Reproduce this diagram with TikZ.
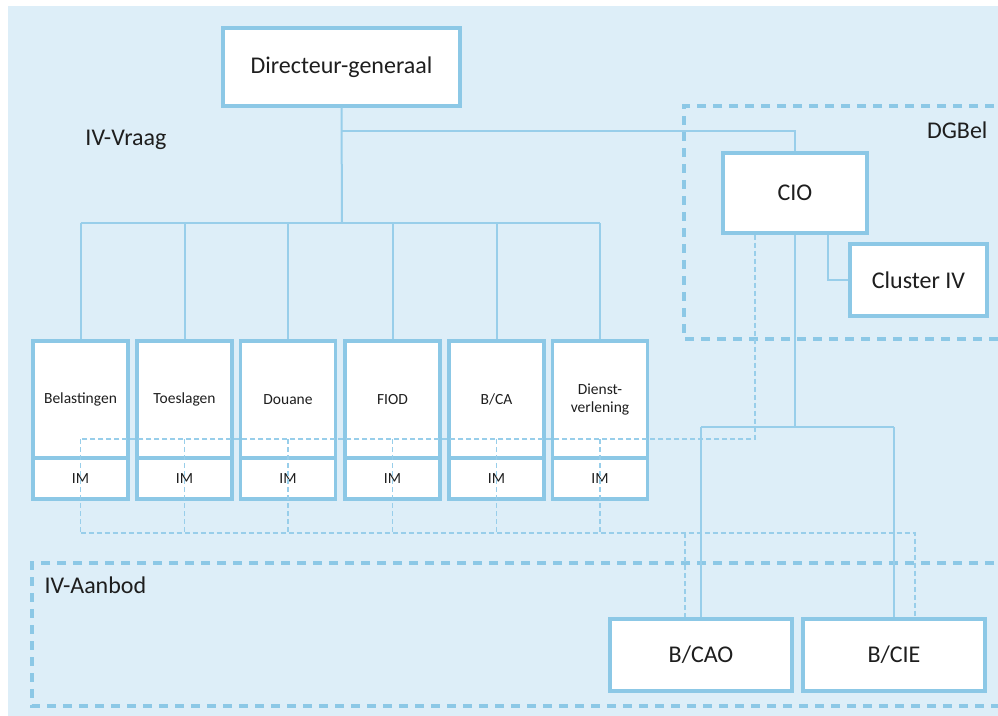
\documentclass[tikz,border=0pt]{standalone}
\usepackage{fontspec}
\setmainfont{Carlito}
\definecolor{bgblue}{RGB}{221,238,248}
\definecolor{boxline}{RGB}{140,200,230}
\definecolor{conline}{RGB}{152,206,234}
\definecolor{txt}{RGB}{30,30,30}
\tikzset{
  bigfont/.style={font=\fontsize{24}{28}\selectfont, text=txt},
  smallfont/.style={font=\fontsize{15.5}{18}\selectfont, text=txt},
  orgbox/.style={draw=boxline, line width=3.2pt, fill=white, inner sep=0pt, bigfont},
  colbox/.style={draw=boxline, line width=3.2pt, fill=white, inner sep=0pt, smallfont,
     minimum width=95pt, align=center},
  conn/.style={draw=conline, line width=2pt},
  imline/.style={draw=conline, line width=1.6pt, dash pattern=on 5pt off 3pt},
  groupline/.style={draw=boxline, line width=3.2pt, dash pattern=on 9pt off 7pt},
}
\begin{document}
\begin{tikzpicture}[x=1pt,y=-1pt]
\useasboundingbox (0,0) rectangle (998,715);
\clip (0,0) rectangle (998,715);
\fill[bgblue] (8,6) rectangle (1005,720);

% group frames
\draw[groupline] (1010,106) -- (684,106) -- (684,339) -- (1010,339);
\draw[groupline] (1010,563) -- (32,563) -- (32,706) -- (1010,706);
\node[bigfont, anchor=east] (dgbel) at (991,130) {DGBel};
\node[bigfont] (vraag) at (126,140) {IV-Vraag};
\node[bigfont, anchor=west] (aanbod) at (41,585) {IV-Aanbod};

% top boxes
\node[orgbox, minimum width=237pt, minimum height=78pt] (dg) at (341.5,67) {Directeur-generaal};
\node[orgbox, minimum width=144pt, minimum height=80pt] (cio) at (795,193) {CIO};
\node[orgbox, minimum width=137pt, minimum height=72pt] (cluster) at (918.5,280) {Cluster IV};
\node[orgbox, minimum width=182pt, minimum height=72pt] (bcao) at (701,655) {B/CAO};
\node[orgbox, minimum width=182pt, minimum height=72pt] (bcie) at (894,655) {B/CIE};

% columns
\foreach \i/\x/\t in {1/80.5/{Belastingen}, 2/184.5/{Toeslagen}, 3/288/{Douane}, 4/392.5/{FIOD}, 5/496.5/{B/CA}, 6/600/{Dienst-\\verlening}} {
  \node[colbox, minimum height=117pt] (col\i) at (\x,399.5) {\t};
  \node[colbox, minimum height=41pt] (im\i) at (\x,478.5) {IM};
}

% solid tree
\coordinate (bus) at (342,223);
\coordinate (branch) at (342,131);
\draw[conn] (dg.south) -- (bus);
\draw[conn] (col1.north |- bus) -- (col6.north |- bus);
\foreach \i in {1,...,6} { \draw[conn] (col\i.north) -- (col\i.north |- bus); }
\draw[conn] (branch) -| (cio.north);
\draw[conn] ([xshift=33pt]cio.south) |- (cluster.west);
\coordinate (split) at (795,427);
\draw[conn] (cio.south) -- (split);
\draw[conn] (bcao.north |- split) -- (bcie.north |- split);
\draw[conn] (bcao.north |- split) -- (bcao.north);
\draw[conn] (bcie.north |- split) -- (bcie.north);

% dashed IM network
\coordinate (imtop) at (0,439);
\coordinate (imbot) at (0,533);
\coordinate (cioim) at ([xshift=-40pt]cio.south);
\draw[imline] (cioim) -- (cioim |- imtop) -- (col1.center |- imtop);
\foreach \i in {1,...,6} { \draw[imline] (col\i.center |- imtop) -- (col\i.center |- imbot); }
\coordinate (caoim) at ([xshift=-16pt]bcao.north);
\coordinate (cieim) at ([xshift=21pt]bcie.north);
\draw[imline] (col1.center |- imbot) -- (cieim |- imbot) -- (cieim);
\draw[imline] (caoim |- imbot) -- (caoim);
\end{tikzpicture}
\end{document}
